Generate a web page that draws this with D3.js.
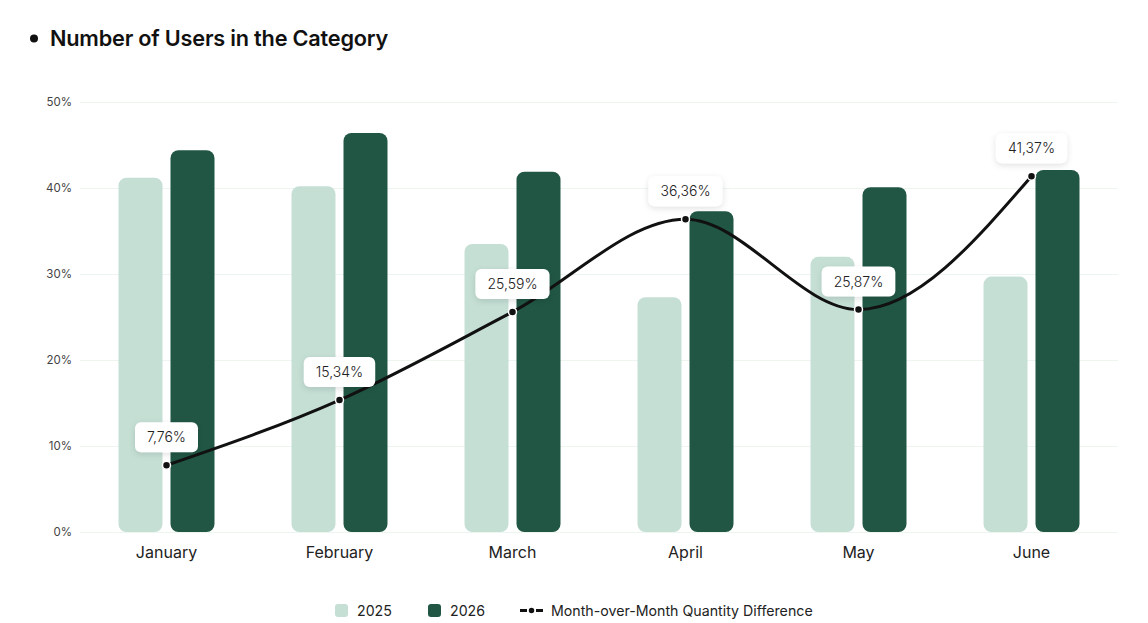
<!DOCTYPE html>
<html>
<head>
<meta charset="utf-8">
<script src="https://cdn.jsdelivr.net/npm/d3@7"></script>
<style>
  html, body { margin: 0; padding: 0; background: #ffffff; }
  svg { display: block; }
</style>
</head>
<body>
<svg id="chart" width="1148" height="623"></svg>
<script>
const months = ["January", "February", "March", "April", "May", "June"];
const series2025 = [41.2, 40.2, 33.5, 27.3, 32.0, 29.7];
const series2026 = [44.4, 46.4, 41.9, 37.3, 40.1, 42.1];
const momDiff = [7.76, 15.34, 25.59, 36.36, 25.87, 41.37];
const yTicks = [0, 10, 20, 30, 40, 50];
const seriesNames = ["2025", "2026", "Month-over-Month Quantity Difference"];

const W = 1148, H = 623;
const margin = { top: 102, right: 30, bottom: 91, left: 80 };
const labelFont = "Inter, 'Open Sans', sans-serif";
const c2025 = "#c5dfd5", c2026 = "#215644";

const svg = d3.select("#chart");

const x = d3.scaleBand().domain(months).range([margin.left, W - margin.right]).paddingInner(0).paddingOuter(0);
const y = d3.scaleLinear().domain([0, 50]).range([H - margin.bottom, margin.top]);

// Title
svg.append("circle").attr("cx", 34).attr("cy", 38.5).attr("r", 4).attr("fill", "#111");
svg.append("text").attr("x", 50).attr("y", 45.5)
  .attr("font-family", "Inter, sans-serif").attr("font-weight", 600)
  .attr("font-size", 21.7).attr("fill", "#111").attr("letter-spacing", -0.2)
  .text("Number of Users in the Category");

// Shadow filter
const defs = svg.append("defs");
const f = defs.append("filter").attr("id", "shadow").attr("x", "-30%").attr("y", "-40%").attr("width", "160%").attr("height", "200%");
f.append("feDropShadow").attr("dx", 0).attr("dy", 2).attr("stdDeviation", 3).attr("flood-color", "#000").attr("flood-opacity", 0.12);

// Grid + y tick labels
const yAxis = d3.axisLeft(y).tickValues(yTicks).tickFormat(d => d + "%").tickSize(-(W - margin.right - margin.left)).tickPadding(8);
const gy = svg.append("g").attr("transform", `translate(${margin.left},0)`).call(yAxis);
gy.select(".domain").remove();
gy.selectAll(".tick line").attr("stroke", "#edf5ef").attr("stroke-width", 1.2);
gy.selectAll(".tick text").attr("font-family", labelFont).attr("font-size", 11.5).attr("fill", "#444");

// X axis labels
const xAxis = d3.axisBottom(x).tickSize(0).tickPadding(15);
const gx = svg.append("g").attr("transform", `translate(0,${y(0)})`).call(xAxis);
gx.select(".domain").remove();
gx.selectAll(".tick text").attr("font-family", labelFont).attr("font-size", 16).attr("fill", "#222");

// Bars
const barW = 44, gap = 8, rad = 8;
const inner = d3.scaleBand().domain(["2025", "2026"]).range([0, barW * 2 + gap]).paddingInner(gap / (barW + gap));
const barData = [];
months.forEach((m, i) => {
  barData.push({ m, key: "2025", v: series2025[i], c: c2025 });
  barData.push({ m, key: "2026", v: series2026[i], c: c2026 });
});
const groupW = barW * 2 + gap;
svg.append("g").selectAll("rect").data(barData).join("rect")
  .attr("x", d => x(d.m) + x.bandwidth() / 2 - groupW / 2 + inner(d.key))
  .attr("width", inner.bandwidth())
  .attr("y", d => y(d.v))
  .attr("height", d => y(0) - y(d.v))
  .attr("rx", rad).attr("ry", rad)
  .attr("fill", d => d.c);

// Line
const cx = i => x(months[i]) + x.bandwidth() / 2;
const line = d3.line().x((d, i) => cx(i)).y(d => y(d)).curve(d3.curveMonotoneX);
svg.append("path").datum(momDiff).attr("d", line)
  .attr("fill", "none").attr("stroke", "#111").attr("stroke-width", 3);

// Labels
const lg = svg.append("g");
momDiff.forEach((v, i) => {
  const px = cx(i), py = y(v);
  const g = lg.append("g");
  const rect = g.append("rect").attr("fill", "#fff").attr("rx", 6).attr("ry", 6).attr("filter", "url(#shadow)");
  const t = g.append("text").attr("x", px).attr("y", py - 23)
    .attr("text-anchor", "middle").attr("font-family", labelFont).attr("font-size", 14)
    .attr("font-weight", 300).attr("fill", "#222")
    .text(v.toFixed(2).replace(".", ",") + "%");
  const tw = t.node().getComputedTextLength();
  const bw = tw + 24, bh = 30;
  rect.attr("x", px - bw / 2).attr("y", py - 13 - bh).attr("width", bw).attr("height", bh);
});

// Dots
svg.append("g").selectAll("circle").data(momDiff).join("circle")
  .attr("cx", (d, i) => cx(i)).attr("cy", d => y(d)).attr("r", 4)
  .attr("fill", "#111").attr("stroke", "#fff").attr("stroke-width", 1.5);

// Legend
const legY = 610.5;
const leg = svg.append("g").attr("font-family", labelFont).attr("font-size", 14.2).attr("fill", "#222");
leg.append("rect").attr("x", 335).attr("y", legY - 6.5).attr("width", 13).attr("height", 13).attr("rx", 3).attr("fill", c2025);
leg.append("text").attr("x", 357).attr("y", legY + 5).text(seriesNames[0]);
leg.append("rect").attr("x", 428).attr("y", legY - 6.5).attr("width", 13).attr("height", 13).attr("rx", 3).attr("fill", c2026);
leg.append("text").attr("x", 450).attr("y", legY + 5).text(seriesNames[1]);
leg.append("line").attr("x1", 520).attr("x2", 543).attr("y1", legY).attr("y2", legY)
  .attr("stroke", "#111").attr("stroke-width", 3).attr("stroke-dasharray", "7,2.5,4,2.5,7");
leg.append("circle").attr("cx", 531.5).attr("cy", legY).attr("r", 3.5).attr("fill", "#111").attr("stroke", "#fff").attr("stroke-width", 1.5);
leg.append("text").attr("x", 551).attr("y", legY + 5).text(seriesNames[2]);
</script>
</body>
</html>
